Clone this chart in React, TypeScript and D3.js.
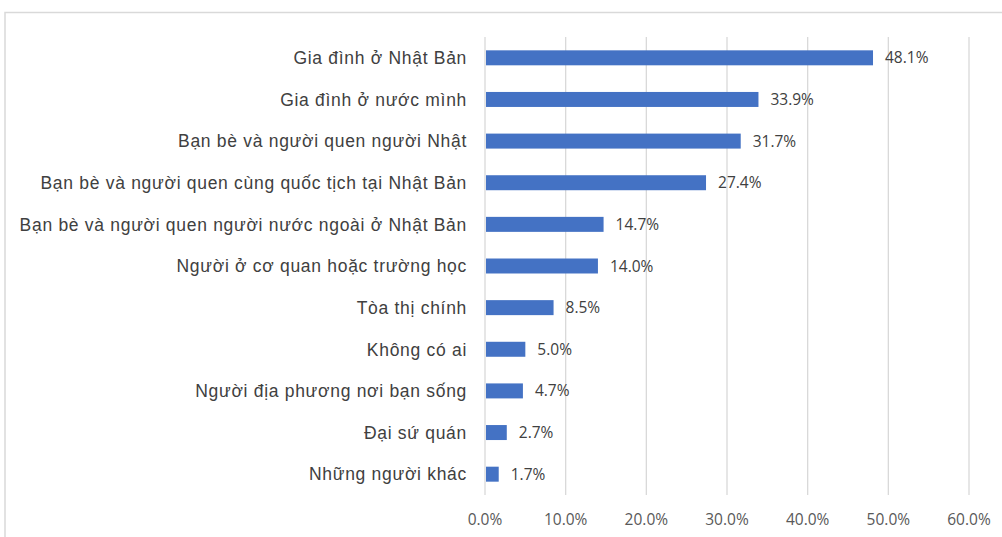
import React from "react";
import * as d3 from "d3";

const categories = [
  "Gia đình ở Nhật Bản",
  "Gia đình ở nước mình",
  "Bạn bè và người quen người Nhật",
  "Bạn bè và người quen cùng quốc tịch tại Nhật Bản",
  "Bạn bè và người quen người nước ngoài ở Nhật Bản",
  "Người ở cơ quan hoặc trường học",
  "Tòa thị chính",
  "Không có ai",
  "Người địa phương nơi bạn sống",
  "Đại sứ quán",
  "Những người khác",
];
const values = [48.1, 33.9, 31.7, 27.4, 14.7, 14.0, 8.5, 5.0, 4.7, 2.7, 1.7];
const ticks = [0, 10, 20, 30, 40, 50, 60];

const W = 1002;
const H = 537;
const left = 485;
const right = 969;
const top = 37;
const bottom = 495;

export default function App() {
  const x = d3.scaleLinear().domain([0, 60]).range([left, right]);
  const y = d3.scaleBand<string>().domain(categories).range([top, bottom]).paddingInner(0.64).paddingOuter(0.32);
  const labelFont = "'Liberation Sans', Arial, sans-serif";
  const numFont = "'Open Sans', 'Liberation Sans', sans-serif";
  return (
    <svg width={W} height={H} style={{ position: "absolute", left: 0, top: 0, background: "#fff" }}>
      <rect x={5} y={12.5} width={W + 10} height={H + 10} fill="#fff" stroke="#d9d9d9" strokeWidth={1.5} />
      {ticks.map((t) => (
        <g key={t}>
          <line x1={x(t)} x2={x(t)} y1={top} y2={bottom} stroke="#d9d9d9" strokeWidth={1.3} />
          <text x={x(t)} y={525} textAnchor="middle" fontFamily={numFont} fontSize={15.5} fill="#595959">
            {t.toFixed(1) + "%"}
          </text>
        </g>
      ))}
      {categories.map((c, i) => {
        const yc = (y(c) as number) + y.bandwidth() / 2;
        return (
          <g key={c}>
            <rect x={x(0) + 1} y={y(c)} width={x(values[i]) - x(0) - 1} height={y.bandwidth()} fill="#4472C4" />
            <text x={467} y={yc} dy="0.36em" textAnchor="end" fontFamily={labelFont} fontSize={17.5} letterSpacing={0.7} fill="#404040">
              {c}
            </text>
            <text x={x(values[i]) + 12} y={yc} dy="0.36em" fontFamily={numFont} fontSize={15.5} fill="#404040">
              {values[i].toFixed(1) + "%"}
            </text>
          </g>
        );
      })}
    </svg>
  );
}
